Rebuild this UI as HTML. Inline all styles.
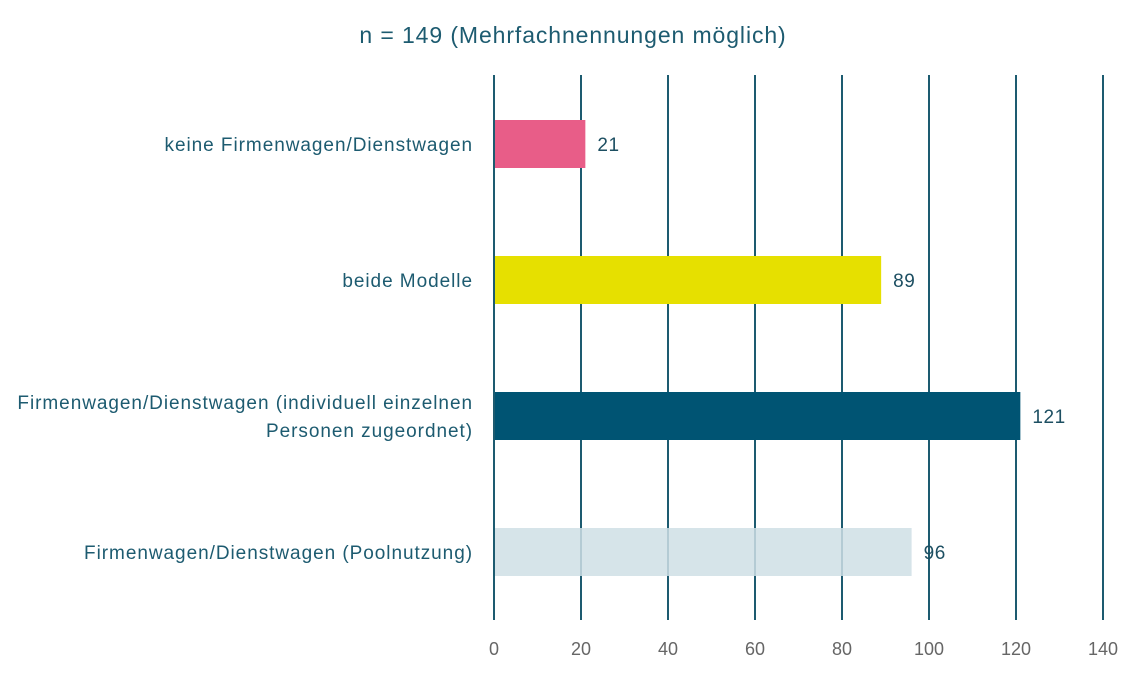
<!DOCTYPE html>
<html><head><meta charset="utf-8"><style>
body{margin:0;background:#fff;}
svg{display:block;font-family:"Liberation Sans",sans-serif;}
</style></head><body>
<svg id="chart" width="1145" height="676" viewBox="0 0 1145 676">
<text x="573" y="43" text-anchor="middle" font-size="23" letter-spacing="0.9" fill="#1d5b70">n = 149 (Mehrfachnennungen möglich)</text>
<g id="grid"></g><g id="bars"></g><g id="labels"></g>
</svg>
<script>
const categories=[["keine Firmenwagen/Dienstwagen"],["beide Modelle"],["Firmenwagen/Dienstwagen (individuell einzelnen","Personen zugeordnet)"],["Firmenwagen/Dienstwagen (Poolnutzung)"]];
const values=[21,89,121,96];
const colors=["#e85d88","#e6e000","#005473","#cfdfe5"];
const ticks=[0,20,40,60,80,100,120,140];
const NS="http://www.w3.org/2000/svg";
const x0=494,x1=1103,maxV=140;
const xs=v=>x0+(x1-x0)*v/maxV;
const yTop=75,yBot=620,band=136,firstCenter=144,barH=48;
const yc=i=>firstCenter+i*band;
function mk(t,a,p){const e=document.createElementNS(NS,t);for(const k in a)e.setAttribute(k,a[k]);p.appendChild(e);return e;}
const bars=document.getElementById('bars'),grid=document.getElementById('grid'),lab=document.getElementById('labels');
ticks.forEach(v=>{
 const l=mk('line',{x1:xs(v),x2:xs(v),y1:yTop,y2:yBot,stroke:'#1d5b70','stroke-width':2},grid);
 
 
 const t=mk('text',{x:xs(v),y:655,'text-anchor':'middle','font-size':18,fill:'#666'},lab);t.textContent=v;
 
 
});
values.forEach((v,i)=>{
 const r=mk('rect',{x:x0+1,y:yc(i)-barH/2,width:xs(v)-x0-1,height:barH,fill:colors[i]},bars);
 
 
 if(i===3)r.setAttribute('fill-opacity','0.85');
 const t=mk('text',{x:xs(v)+12,y:yc(i)+7,'font-size':19,'letter-spacing':0.6,fill:'#1d4f62'},lab);t.textContent=v;
 
 
 const lines=categories[i];
 lines.forEach((s,j)=>{
  const c=mk('text',{x:473,y:yc(i)+7+(j-(lines.length-1)/2)*28,'text-anchor':'end','font-size':19,'letter-spacing':0.95,fill:'#1d5b70'},lab);c.textContent=s;
  
  
 });
});
</script>
</body></html>
